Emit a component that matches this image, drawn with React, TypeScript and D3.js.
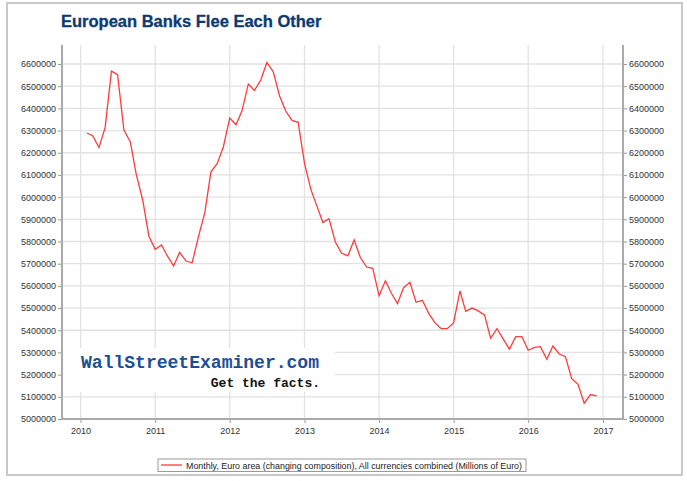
import React, { useEffect, useRef } from 'react';
import * as d3 from 'd3';

// monthly, Feb 2010 .. Dec 2016
const startYear = 2010;
const startMonth = 1; // February (0-based)
const values = [
  6289000, 6277000, 6223000, 6313000, 6568000, 6552000, 6302000, 6250000, 6100000, 5987000, 5825000,
  5765000, 5784000, 5736000, 5690000, 5751000, 5712000, 5704000, 5822000, 5930000, 6114000, 6152000, 6227000,
  6356000, 6326000, 6389000, 6510000, 6481000, 6528000, 6607000, 6565000, 6456000, 6388000, 6346000, 6337000,
  6152000, 6035000, 5964000, 5886000, 5903000, 5798000, 5748000, 5735000, 5807000, 5729000, 5685000, 5679000,
  5556000, 5623000, 5569000, 5520000, 5592000, 5616000, 5526000, 5535000, 5476000, 5434000, 5407000, 5407000,
  5434000, 5577000, 5485000, 5500000, 5487000, 5469000, 5364000, 5407000, 5360000, 5315000, 5371000, 5371000,
  5310000, 5323000, 5326000, 5269000, 5329000, 5293000, 5281000, 5182000, 5156000, 5071000, 5110000, 5104000,
];
const yearTicks = [2010, 2011, 2012, 2013, 2014, 2015, 2016, 2017];
const yTicks = d3.range(5000000, 6600001, 100000);

const title = 'European Banks Flee Each Other';
const legendLabel = 'Monthly, Euro area (changing composition), All currencies combined (Millions of Euro)';

const App = () => {
  const ref = useRef<SVGSVGElement>(null);

  useEffect(() => {
    const W = 687, H = 481;
    const left = 62, right = 623, top = 45, bottom = 419;
    const svg = d3.select(ref.current);
    svg.selectAll('*').remove();
    svg.attr('width', W).attr('height', H);

    svg.append('rect').attr('width', W).attr('height', H).attr('fill', '#fff');
    svg.append('rect')
      .attr('x', 7).attr('y', 3).attr('width', 675).attr('height', 472)
      .attr('fill', 'none').attr('stroke', '#c8c8c8').attr('stroke-width', 2);

    const data = values.map((v, i) => ({ date: new Date(startYear, startMonth + i, 1), value: v }));

    const x = d3.scaleTime()
      .domain([new Date(2009, 9, 2), new Date(2017, 3, 9)])
      .range([left, right]);
    const y = d3.scaleLinear().domain([5000000, 6685600]).range([bottom, top]);

    // grid
    svg.append('g').selectAll('line').data(yTicks).enter().append('line')
      .attr('x1', left).attr('x2', right)
      .attr('y1', d => y(d)).attr('y2', d => y(d))
      .attr('stroke', '#e2e2e2').attr('stroke-width', 1.3);
    svg.append('g').selectAll('line').data(yearTicks).enter().append('line')
      .attr('x1', d => x(new Date(d, 0, 1))).attr('x2', d => x(new Date(d, 0, 1)))
      .attr('y1', top).attr('y2', bottom)
      .attr('stroke', '#e2e2e2').attr('stroke-width', 1.3);

    // watermark box
    const wm = svg.append('g');
    wm.append('rect').attr('x', 63).attr('y', 348).attr('width', 272).attr('height', 44).attr('fill', '#fff');
    wm.append('text').attr('x', 81).attr('y', 368)
      .attr('font-family', '"Liberation Mono", "DejaVu Sans Mono", monospace')
      .attr('font-weight', 'bold').attr('font-size', 18).attr('fill', '#1b4f94')
      .attr('textLength', 238).attr('lengthAdjust', 'spacingAndGlyphs')
      .text('WallStreetExaminer.com');
    wm.append('text').attr('x', 320).attr('y', 387).attr('text-anchor', 'end')
      .attr('font-family', '"Liberation Mono", "DejaVu Sans Mono", monospace')
      .attr('font-weight', 'bold').attr('font-size', 13).attr('fill', '#111')
      .text('Get the facts.');

    // axes
    const fontFam = '"Liberation Sans", Arial, sans-serif';
    const yl = d3.axisLeft(y).tickValues(yTicks).tickSize(4).tickPadding(2).tickFormat(d3.format('d'));
    const yr = d3.axisRight(y).tickValues(yTicks).tickSize(4).tickPadding(2).tickFormat(d3.format('d'));
    const xb = d3.axisBottom(x).tickValues(yearTicks.map(d => new Date(d, 0, 1)))
      .tickSize(4).tickPadding(5).tickFormat(d => d3.timeFormat('%Y')(d as Date));

    const gl = svg.append('g').attr('transform', `translate(${left},0)`).call(yl);
    const gr = svg.append('g').attr('transform', `translate(${right},0)`).call(yr);
    const gb = svg.append('g').attr('transform', `translate(0,${bottom})`).call(xb);
    [gl, gr, gb].forEach(g => {
      g.select('.domain').attr('stroke', '#aaa').attr('stroke-width', 2);
      g.selectAll('.tick line').attr('stroke', '#999');
      g.selectAll('.tick text').attr('fill', '#333').attr('font-size', 9).attr('font-family', fontFam);
    });
    gb.select('.domain').remove();
    gl.select('.domain').remove();
    gr.select('.domain').remove();
    svg.append('path')
      .attr('d', `M${left},${top}V${bottom}H${right}V${top}`)
      .attr('fill', 'none').attr('stroke', '#aaa').attr('stroke-width', 2);

    // line
    const line = d3.line<{ date: Date; value: number }>().x(d => x(d.date)).y(d => y(d.value));
    svg.append('path').datum(data)
      .attr('d', line).attr('fill', 'none').attr('stroke', '#ff3b3b').attr('stroke-width', 1.3);

    // title
    svg.append('text').attr('x', 61).attr('y', 27)
      .attr('font-family', fontFam).attr('font-weight', 'bold').attr('font-size', 16.5)
      .attr('fill', '#0b3a73').attr('stroke', '#0b3a73').attr('stroke-width', 0.3)
      .text(title);

    // legend
    const lg = svg.append('g');
    lg.append('rect').attr('x', 158).attr('y', 459).attr('width', 368).attr('height', 12.5)
      .attr('fill', '#fff').attr('stroke', '#999').attr('stroke-width', 1);
    lg.append('line').attr('x1', 161).attr('x2', 182).attr('y1', 465).attr('y2', 465)
      .attr('stroke', '#ff3b3b').attr('stroke-width', 1.3);
    lg.append('text').attr('x', 186).attr('y', 468.5)
      .attr('font-family', fontFam).attr('font-size', 8.5).attr('fill', '#222')
      .attr('textLength', 336).attr('lengthAdjust', 'spacingAndGlyphs')
      .text(legendLabel);
  }, []);

  return <svg ref={ref} style={{ position: 'absolute', left: 0, top: 0, display: 'block' }}></svg>;
};

export default App;
